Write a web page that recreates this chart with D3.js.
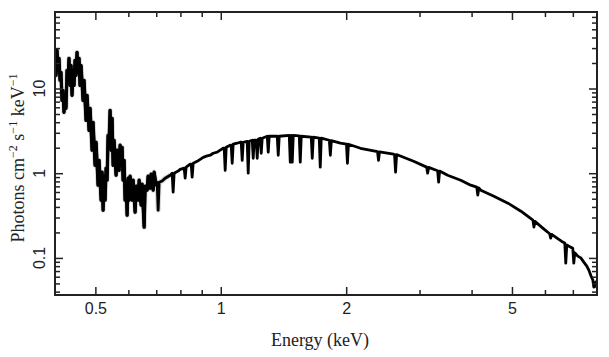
<!DOCTYPE html>
<html><head><meta charset="utf-8">
<script src="https://cdn.jsdelivr.net/npm/d3@7"></script>
<style>body{margin:0;background:#fff}svg{display:block}</style>
</head><body><svg id="c" width="609" height="357"></svg>
<script>
// Energy (keV), flux (photons cm^-2 s^-1 keV^-1)
const softBand = [[0.400,29.7],[0.4022,14.3],[0.4045,28.2],[0.4067,16.4],[0.4090,22.7],[0.4112,12.5],[0.4135,15.5],[0.4158,7.25],[0.4181,9.51],[0.4204,5.24],[0.4228,8.31],[0.4251,5.84],[0.4275,16.4],[0.4299,12.5],[0.4322,22.7],[0.4346,10.9],[0.4371,18.7],[0.4395,8.31],[0.4419,16.4],[0.4444,10.9],[0.4468,21.5],[0.4493,14.3],[0.4518,26.7],[0.4543,15.5],[0.4569,22.7],[0.4594,10.9],[0.4620,18.7],[0.4671,7.25],[0.4697,12.5],[0.4749,4.21],[0.4776,8.31],[0.4829,3.21],[0.4856,5.84],[0.4910,1.87],[0.4937,3.99],[0.4992,1.24],[0.5020,2.32],[0.5075,0.722],[0.5104,1.42],[0.5161,0.481],[0.5189,1.03],[0.5218,0.366],[0.5247,0.922],[0.5276,0.481],[0.5305,1.15],[0.5335,0.827],[0.5364,2.80],[0.5394,2.45],[0.5424,5.53],[0.5454,1.87],[0.5484,4.45],[0.5515,1.24],[0.5545,2.45],[0.5607,0.947],[0.5638,1.87],[0.5701,1.08],[0.5732,2.14],[0.5764,1.24],[0.5796,2.02],[0.5828,0.827],[0.5861,1.42],[0.5893,0.481],[0.5926,0.783],[0.5959,0.320],[0.5992,0.873],[0.6025,0.481],[0.6058,0.922],[0.6126,0.481],[0.6160,0.827],[0.6228,0.347],[0.6263,0.703],[0.6333,0.481],[0.6368,0.827],[0.6439,0.420],[0.6474,0.742],[0.6547,0.231],[0.6583,0.703],[0.6656,0.631],[0.6693,0.922],[0.6768,0.666],[0.6805,0.973],[0.6881,0.631],[0.6919,1.03],[0.6996,0.722]];
const continuum = [[0.7035,0.783],[0.7074,0.366],[0.7113,0.783],[0.7232,0.81],[0.7353,0.873],[0.7559,0.947],[0.7643,1.00],[0.7685,0.597],[0.7728,1.00],[0.7901,1.06],[0.7989,1.11],[0.8168,1.15],[0.8213,0.873],[0.8259,1.18],[0.8443,1.28],[0.8490,1.28],[0.8537,0.897],[0.8585,1.31],[0.8777,1.38],[0.9073,1.54],[0.9276,1.60],[0.9431,1.63],[0.9590,1.72],[0.9804,1.77],[0.9968,1.87],[1.0134,1.97],[1.0190,1.97],[1.0247,1.08],[1.0304,2.02],[1.0534,2.14],[1.0592,2.14],[1.0651,1.31],[1.0710,2.20],[1.0950,2.26],[1.1133,2.32],[1.1195,2.32],[1.1257,1.42],[1.1320,2.32],[1.1573,2.38],[1.1637,1.00],[1.1702,2.38],[1.1898,2.45],[1.1964,1.50],[1.2030,2.45],[1.2164,2.45],[1.2231,1.50],[1.2299,2.52],[1.2436,2.59],[1.2505,1.72],[1.2574,2.59],[1.2928,2.73],[1.2999,1.77],[1.3071,2.73],[1.3662,2.73],[1.3738,1.63],[1.3814,2.73],[1.4601,2.80],[1.4682,1.35],[1.4763,2.80],[1.4845,1.35],[1.4927,2.80],[1.5431,2.76],[1.5516,1.35],[1.5602,2.73],[1.6488,2.66],[1.6580,1.50],[1.6672,2.66],[1.7234,2.59],[1.7329,1.18],[1.7425,2.59],[1.8222,2.45],[1.8323,1.63],[1.8425,2.42],[1.9369,2.26],[2.0028,2.20],[2.0139,1.31],[2.0251,2.20],[2.1649,1.97],[2.3781,1.80],[2.3913,1.42],[2.4045,1.79],[2.5987,1.675],[2.6131,1.66],[2.6276,1.03],[2.6421,1.66],[2.9030,1.385],[3.1198,1.18],[3.1371,1.00],[3.1544,1.17],[3.3151,1.07],[3.3335,0.783],[3.3520,1.06],[3.5038,0.947],[3.7670,0.827],[3.9809,0.722],[4.1162,0.684],[4.1391,0.551],[4.1621,0.67],[4.2085,0.631],[4.5243,0.536],[4.8893,0.443],[5.2535,0.356],[5.6142,0.279],[5.6453,0.231],[5.6766,0.27],[5.9679,0.219],[6.158,0.193],[6.1927,0.171],[6.227,0.19],[6.6208,0.154],[6.6946,0.15],[6.7317,0.0869],[6.769,0.142],[6.9207,0.134],[6.998,0.13],[7.0366,0.0869],[7.075,0.115],[7.1943,0.105],[7.3148,0.10],[7.4373,0.0893],[7.562,0.08],[7.6462,0.0719],[7.7314,0.062],[7.8176,0.0548],[7.8611,0.0452],[7.9487,0.052],[7.99,0.045],[8.0,0.045]];

const xDomain = [0.4, 8];
const yDomain = [0.0365, 80];
const xMajor = [0.5, 1, 2, 5];
const xMajorLabels = ["0.5", "1", "2", "5"];
const xMinor = [0.6, 0.7, 0.8, 0.9, 3, 4, 6, 7];
const yMajor = [0.1, 1, 10];
const yMajorLabels = ["0.1", "1", "10"];
const yMinor = [0.04, 0.05, 0.06, 0.07, 0.08, 0.09, 0.2, 0.3, 0.4, 0.5, 0.6, 0.7, 0.8, 0.9, 2, 3, 4, 5, 6, 7, 8, 9, 20, 30, 40, 50, 60, 70];

const L = 55, R = 597, T = 12, B = 295;
const svg = d3.select("#c");
const x = d3.scaleLog().domain(xDomain).range([L, R]);
const y = d3.scaleLog().domain(yDomain).range([B, T]);

svg.append("defs").append("clipPath").attr("id", "clip")
  .append("rect").attr("x", L).attr("y", T).attr("width", R - L).attr("height", B - T);

const line = d3.line().x(d => x(d[0])).y(d => y(d[1]));
const all = softBand.concat(continuum);
const g = svg.append("g").attr("clip-path", "url(#clip)");
g.append("path").datum(softBand.concat(continuum.slice(0, 6)))
  .attr("d", line).attr("fill", "none").attr("stroke", "#d6d6d6").attr("stroke-width", 5).attr("stroke-linejoin", "round");
g.append("path").datum(softBand)
  .attr("d", line).attr("fill", "none").attr("stroke", "#000").attr("stroke-width", 3.2).attr("stroke-linejoin", "round");
g.append("path").datum(all)
  .attr("d", line).attr("fill", "none").attr("stroke", "#000").attr("stroke-width", 2.8).attr("stroke-linejoin", "round");

function styleAxis(sel) {
  sel.select(".domain").remove();
  sel.selectAll(".tick line").attr("stroke", "#222").attr("stroke-width", 1.5);
  sel.selectAll(".tick text").attr("font-family", "'Liberation Sans', Arial, sans-serif").attr("font-size", 16).attr("fill", "#222");
}
// bottom
svg.append("g").attr("transform", `translate(0,${B})`)
  .call(d3.axisBottom(x).tickValues(xMajor).tickSize(-8).tickPadding(8).tickFormat((d, i) => xMajorLabels[i]))
  .call(styleAxis);
svg.append("g").attr("transform", `translate(0,${B})`)
  .call(d3.axisBottom(x).tickValues(xMinor).tickSize(-5).tickFormat(""))
  .call(styleAxis);
// top
svg.append("g").attr("transform", `translate(0,${T})`)
  .call(d3.axisTop(x).tickValues(xMajor).tickSize(-8).tickFormat(""))
  .call(styleAxis);
svg.append("g").attr("transform", `translate(0,${T})`)
  .call(d3.axisTop(x).tickValues(xMinor).tickSize(-5).tickFormat(""))
  .call(styleAxis);
// left
svg.append("g").attr("transform", `translate(${L},0)`)
  .call(d3.axisLeft(y).tickValues(yMajor).tickSize(-8).tickFormat(""))
  .call(styleAxis);
svg.append("g").attr("transform", `translate(${L},0)`)
  .call(d3.axisLeft(y).tickValues(yMinor).tickSize(-5).tickFormat(""))
  .call(styleAxis);
// right
svg.append("g").attr("transform", `translate(${R},0)`)
  .call(d3.axisRight(y).tickValues(yMajor).tickSize(-8).tickFormat(""))
  .call(styleAxis);
svg.append("g").attr("transform", `translate(${R},0)`)
  .call(d3.axisRight(y).tickValues(yMinor).tickSize(-5).tickFormat(""))
  .call(styleAxis);
// rotated y tick labels
svg.append("g").selectAll("text").data(yMajor).join("text")
  .attr("transform", d => `translate(45,${y(d)}) rotate(-90)`)
  .attr("text-anchor", "middle")
  .attr("font-family", "'Liberation Sans', Arial, sans-serif").attr("font-size", 16).attr("fill", "#222")
  .text((d, i) => yMajorLabels[i]);

// frame
svg.append("rect").attr("x", L).attr("y", T).attr("width", R - L).attr("height", B - T)
  .attr("fill", "none").attr("stroke", "#222").attr("stroke-width", 2);

// axis titles
svg.append("text").attr("x", 320).attr("y", 346).attr("text-anchor", "middle")
  .attr("font-family", "'Liberation Serif', 'Times New Roman', serif").attr("font-size", 18).attr("fill", "#222")
  .text("Energy (keV)");
const yt = svg.append("text").attr("transform", `translate(23.5,158) rotate(-90)`).attr("text-anchor", "middle")
  .attr("font-family", "'Liberation Serif', 'Times New Roman', serif").attr("font-size", 18).attr("fill", "#222");
yt.append("tspan").text("Photons cm");
yt.append("tspan").attr("dy", -7).attr("font-size", 12).text("\u22122");
yt.append("tspan").attr("dy", 7).text(" s");
yt.append("tspan").attr("dy", -7).attr("font-size", 12).text("\u22121");
yt.append("tspan").attr("dy", 7).text(" keV");
yt.append("tspan").attr("dy", -7).attr("font-size", 12).text("\u22121");
</script>
</body></html>
